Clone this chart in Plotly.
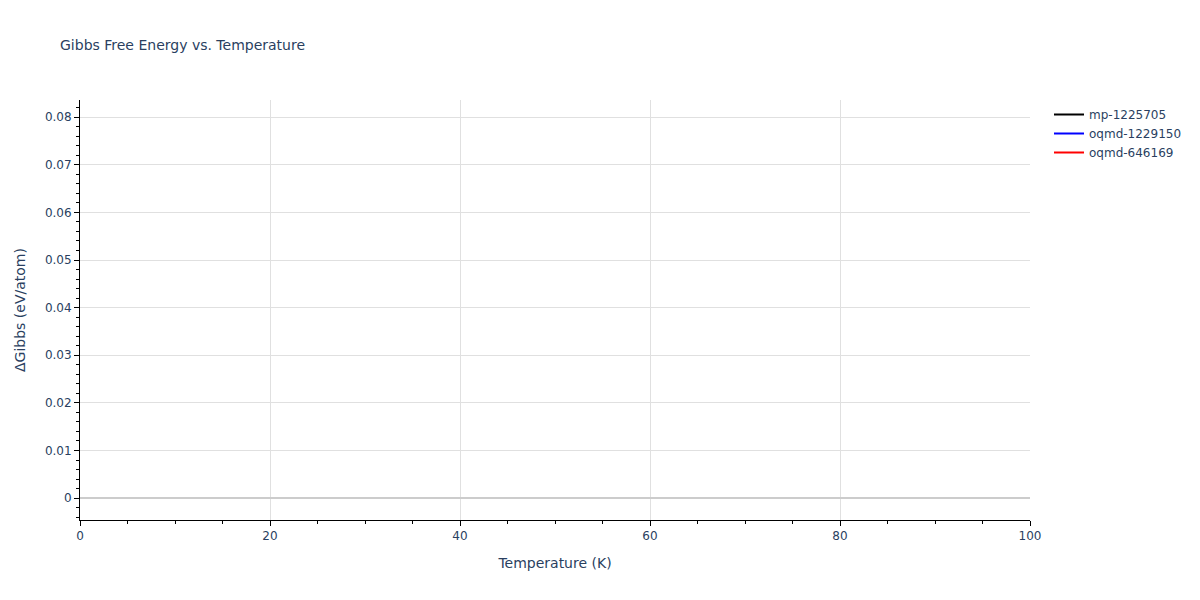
import plotly.graph_objects as go

# the reference shows no visible curve points, only the legend entries
temperature = [0, 100]
mp_1225705 = [None, None]
oqmd_1229150 = [None, None]
oqmd_646169 = [None, None]

names = ["mp-1225705", "oqmd-1229150", "oqmd-646169"]
colors = ["black", "blue", "red"]
series = [mp_1225705, oqmd_1229150, oqmd_646169]

fig = go.Figure()
for name, color, vals in zip(names, colors, series):
    fig.add_trace(go.Scatter(x=temperature, y=vals, mode="lines", name=name,
                             line=dict(color=color, width=2)))

axis_common = dict(
    showline=True, linecolor="black", linewidth=1,
    ticks="outside", tickcolor="black", ticklen=5,
    gridcolor="#e0e0e0", gridwidth=1,
    minor=dict(ticks="outside", ticklen=3, tickcolor="black", showgrid=False),
)

fig.update_layout(
    template="plotly_white",
    width=1200, height=600,
    font=dict(family="DejaVu Sans", size=12),
    title=dict(text="Gibbs Free Energy vs. Temperature", x=0.05, y=0.925,
               yanchor="middle", font=dict(size=14)),
    margin=dict(l=80, r=170, t=100, b=80),
    xaxis=dict(title=dict(text="Temperature (K)", font=dict(size=14)),
               range=[0, 100], dtick=20, zeroline=False, **axis_common),
    yaxis=dict(title=dict(text="ΔGibbs (eV/atom)", font=dict(size=14)),
               range=[-0.0046, 0.0836], dtick=0.01,
               zeroline=True, zerolinecolor="#cccccc", zerolinewidth=2,
               **axis_common),
    legend=dict(x=1.02, y=1.0, font=dict(size=12)),
    showlegend=True,
)
fig.update_xaxes(minor=dict(dtick=5))
fig.update_yaxes(minor=dict(dtick=0.002))

fig.write_html("out.html", config={"displayModeBar": False},
               post_script="document.body.style.margin='0';")
